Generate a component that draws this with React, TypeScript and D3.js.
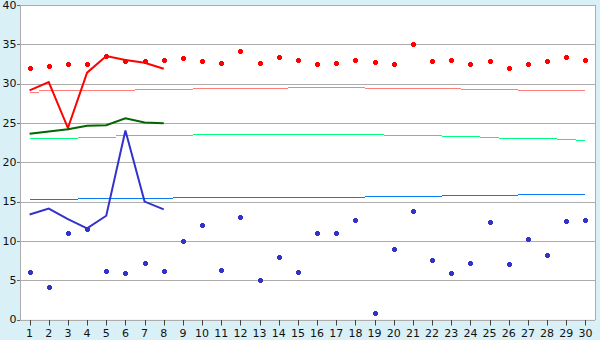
import React from "react";
import * as d3 from "d3";

const days = d3.range(1, 31).map(String);
const yTicks = [0, 5, 10, 15, 20, 25, 30, 35, 40];

const redDots = [32.0, 32.25, 32.5, 32.5, 33.5, 32.9, 32.9, 33.0, 33.3, 32.9, 32.6, 34.2, 32.6, 33.4, 33.0, 32.5, 32.6, 33.0, 32.8, 32.5, 35.05, 32.9, 33.0, 32.5, 32.9, 32.0, 32.5, 32.9, 33.4, 33.0];
const blueDots = [6.0, 4.1, 11.0, 11.5, 6.14, 5.89, 7.16, 6.14, 9.96, 12.0, 6.27, 13.02, 4.99, 7.92, 6.01, 10.98, 10.98, 12.64, 0.79, 8.94, 13.78, 7.54, 5.89, 7.16, 12.38, 7.03, 10.22, 8.18, 12.51, 12.64];

const redLine = [29.15, 30.2, 24.35, 31.4, 33.5, 33.0, 32.65, 31.9];
const greenLine = [23.63, 23.9, 24.2, 24.65, 24.7, 25.6, 25.07, 24.95];
const blueLine = [13.35, 14.1, 12.76, 11.6, 13.2, 24.05, 15.0, 14.0];

const redTrend = [28.94, 29.2, 29.2, 29.2, 29.2, 29.2, 29.33, 29.33, 29.33, 29.45, 29.45, 29.45, 29.45, 29.45, 29.58, 29.58, 29.58, 29.58, 29.45, 29.45, 29.45, 29.45, 29.45, 29.33, 29.33, 29.33, 29.2, 29.2, 29.2, 29.2];
const greenTrend = [23.03, 23.03, 23.03, 23.21, 23.21, 23.41, 23.41, 23.41, 23.41, 23.59, 23.59, 23.59, 23.59, 23.59, 23.59, 23.59, 23.59, 23.59, 23.59, 23.46, 23.46, 23.46, 23.34, 23.34, 23.21, 23.08, 23.08, 23.08, 22.96, 22.83];
const blueTrend = [15.31, 15.31, 15.31, 15.44, 15.44, 15.44, 15.44, 15.44, 15.58, 15.58, 15.58, 15.58, 15.58, 15.58, 15.58, 15.58, 15.58, 15.58, 15.69, 15.69, 15.69, 15.69, 15.82, 15.82, 15.82, 15.82, 15.95, 15.95, 15.95, 15.95];

const W = 600, H = 340;
const L = 20, R = 595, T = 5, B = 319.5;

export default function App() {
  const x = d3.scaleBand<string>().domain(days).range([L, R]);
  const bw = x.bandwidth();
  const cx = (i: number) => (x(days[i]) as number) + bw / 2;
  const y = d3.scaleLinear().domain([0, 40]).range([B, T]);

  const line = d3.line<number>().x((_, i) => cx(i)).y((d) => y(d));

  const trend = (vals: number[], color: string, key: string) => (
    <g key={key} stroke={color} strokeWidth={1} shapeRendering="crispEdges">
      {vals.map((v, i) => {
        const x1 = i === 0 ? cx(0) : cx(i) - bw / 2;
        const x2 = i === vals.length - 1 ? cx(i) : cx(i) + bw / 2;
        const yy = Math.round(y(v)) + 0.5;
        return <line key={i} x1={Math.round(x1)} x2={Math.round(x2)} y1={yy} y2={yy} />;
      })}
    </g>
  );

  const plus = (px: number, py: number, color: string, key: string) => {
    const rx = Math.round(px), ry = Math.round(py);
    return (
      <g key={key} fill={color} shapeRendering="crispEdges">
        <rect x={rx - 2} y={ry - 1} width={5} height={3} />
        <rect x={rx - 1} y={ry - 2} width={3} height={5} />
      </g>
    );
  };

  return (
    <div style={{ position: "fixed", left: 0, top: 0 }}>
      <svg width={W} height={H} style={{ display: "block" }} fontFamily="DejaVu Sans, Verdana, sans-serif" fontSize={11}>
        <rect x={0} y={0} width={W} height={H} fill="#daf0f7" />
        <rect x={L} y={T} width={R - L} height={B - T} fill="#ffffff" />
        {yTicks.map((t) => (
          <g key={t}>
            <line x1={L} x2={R} y1={Math.round(y(t)) + 0.5} y2={Math.round(y(t)) + 0.5} stroke="#acacac" />
            <line x1={L - 3} x2={L} y1={Math.round(y(t)) + 0.5} y2={Math.round(y(t)) + 0.5} stroke="#666" />
            <text x={16.5} y={y(t)} dy="0.35em" textAnchor="end" fill="#111">{t}</text>
          </g>
        ))}
        <line x1={L + 0.5} x2={L + 0.5} y1={T} y2={B + 0.5} stroke="#acacac" />
        <line x1={R + 0.5} x2={R + 0.5} y1={T} y2={B + 0.5} stroke="#acacac" />
        {days.map((d, i) => (
          <g key={d}>
            <line x1={Math.round(cx(i)) + 0.5} x2={Math.round(cx(i)) + 0.5} y1={B + 0.5} y2={B + 6} stroke="#444" />
            <text x={cx(i)} y={337} textAnchor="middle" fill="#111">{d}</text>
          </g>
        ))}
        {trend(redTrend, "#ff7f7f", "rt")}
        {trend(greenTrend, "#00ff80", "gt")}
        {trend(blueTrend, "#0a7cf5", "bt")}
        <path d={line(redLine) || ""} fill="none" stroke="#ff0000" strokeWidth={2} />
        <path d={line(greenLine) || ""} fill="none" stroke="#006600" strokeWidth={2} />
        <path d={line(blueLine) || ""} fill="none" stroke="#3333cc" strokeWidth={2} />
        {redDots.map((v, i) => plus(cx(i), y(v), "#ff0000", "r" + i))}
        {blueDots.map((v, i) => plus(cx(i), y(v), "#3333cc", "b" + i))}
      </svg>
    </div>
  );
}
